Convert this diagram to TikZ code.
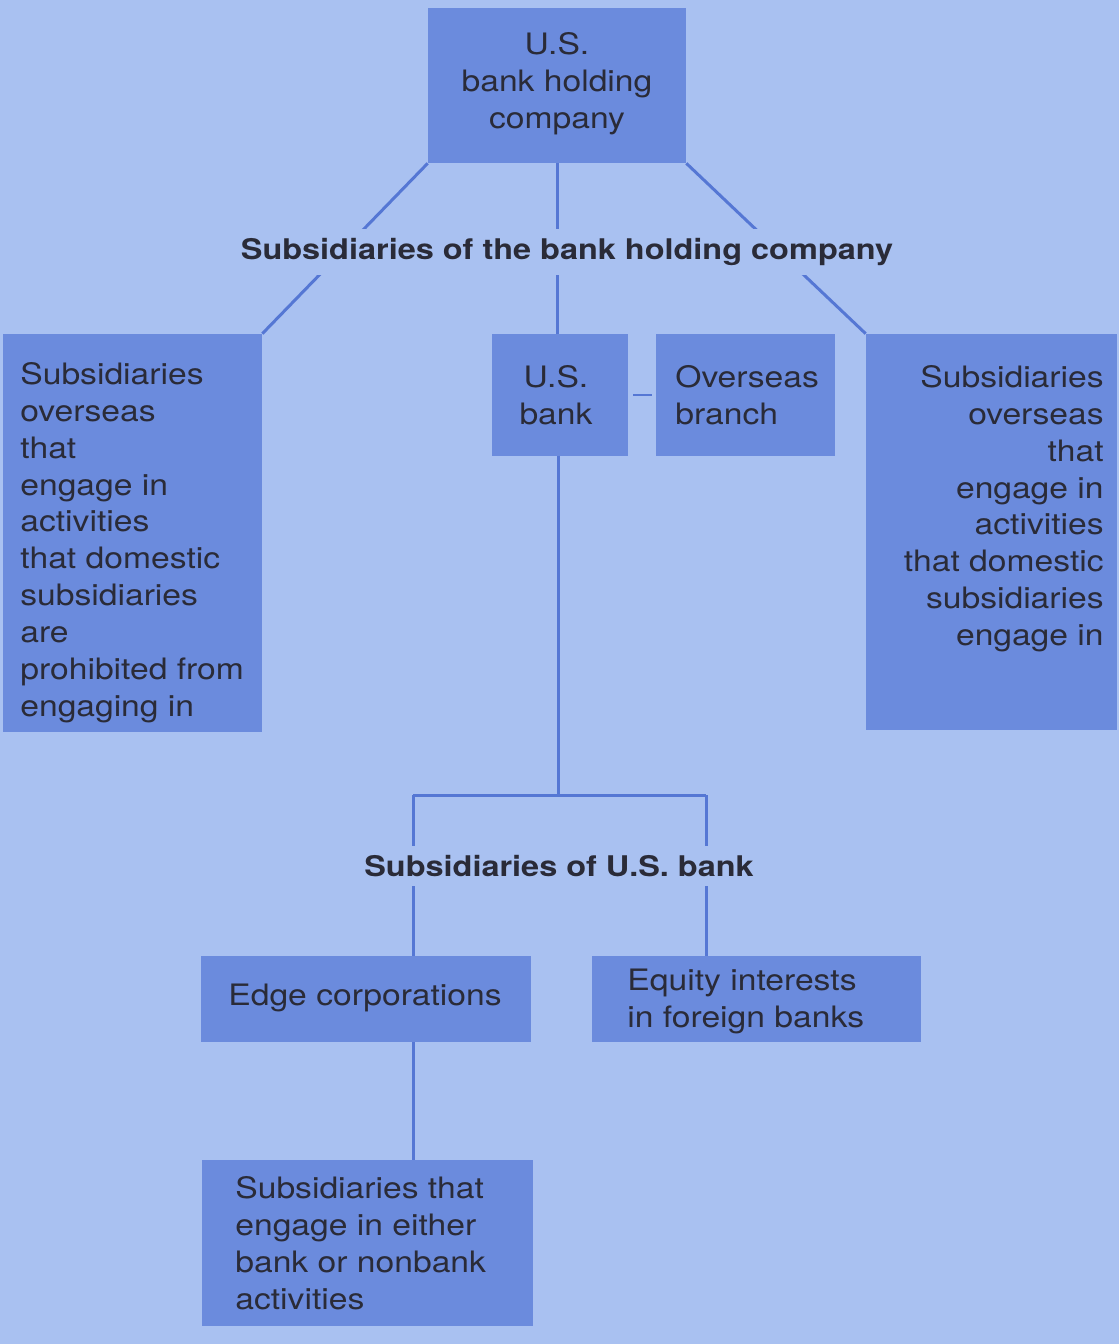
\documentclass[tikz,border=0pt]{standalone}
\usepackage{fontspec}
\setmainfont[FakeStretch=1.14]{TeX Gyre Heros}
\definecolor{paper}{HTML}{A9C1F1}
\definecolor{boxblue}{HTML}{6B8BDD}
\definecolor{lineblue}{HTML}{5577D4}
\definecolor{ink}{HTML}{2A2B38}
\begin{document}
\begin{tikzpicture}[x=0.02cm,y=-0.02cm,
	box/.style={rectangle,fill=boxblue,inner sep=0pt},
	txt/.style={inner sep=0pt,text=ink,font=\fontsize{16.8}{21}\selectfont},
	heading/.style={fill=paper,inner xsep=3pt,inner ysep=5pt,text=ink,font=\fontsize{16.2}{21}\selectfont\bfseries},
	link/.style={draw=lineblue,line width=1.7pt}]
	\fill[paper] (0,0) rectangle (1119,1344);
	\node[box, minimum width=5.16cm, minimum height=3.10cm] (top) at (557,85.5) {};
	\node[box, minimum width=5.18cm, minimum height=7.96cm] (lsub) at (132.5,533) {};
	\node[box, minimum width=2.72cm, minimum height=2.44cm] (usbank) at (560,395) {};
	\node[box, minimum width=3.58cm, minimum height=2.44cm] (branch) at (745.5,395) {};
	\node[box, minimum width=5.02cm, minimum height=7.92cm] (rsub) at (991.5,532) {};
	\node[box, minimum width=6.60cm, minimum height=1.72cm] (edge) at (366,999) {};
	\node[box, minimum width=6.58cm, minimum height=1.72cm] (equity) at (756.5,999) {};
	\node[box, minimum width=6.62cm, minimum height=3.32cm] (either) at (367.5,1243) {};
	\node[txt, align=center, anchor=north] (toptxt) at (557,32) {U.S.\\bank holding\\company};
	\node[txt, align=left, anchor=north west] (lsubtxt) at (20,362) {Subsidiaries\\overseas\\that\\engage in\\activities\\that domestic\\subsidiaries\\are\\prohibited from\\engaging in};
	\node[txt, align=center, anchor=north] (usbanktxt) at (556,365) {U.S.\\bank};
	\node[txt, align=left, anchor=north west] (branchtxt) at (675,365) {Overseas\\branch};
	\node[txt, align=right, anchor=north east] (rsubtxt) at (1104,365) {Subsidiaries\\overseas\\that\\engage in\\activities\\that domestic\\subsidiaries\\engage in};
	\node[txt, align=left, anchor=north west] (edgetxt) at (228,984) {Edge corporations};
	\node[txt, align=left, anchor=north west] (equitytxt) at (627,969) {Equity interests\\in foreign banks};
	\node[txt, align=left, anchor=north west] (eithertxt) at (235,1176) {Subsidiaries that\\engage in either\\bank or nonbank\\activities};
	\coordinate (split) at (558,795);
	\coordinate (ljoin) at (413,795);
	\coordinate (rjoin) at (706,795);
	\draw[link] (top.south west) -- (lsub.north east);
	\draw[link] (top.south) -- (top.south |- usbank.north);
	\draw[link] (top.south east) -- (rsub.north west);
	\draw[link, shorten <=0.1cm, shorten >=0.08cm] (usbank.east) -- (branch.west);
	\draw[link] (split |- usbank.south) -- (split);
	\draw[link] (ljoin) -- (rjoin);
	\draw[link] (ljoin) -- (ljoin |- edge.north);
	\draw[link] (rjoin) -- (rjoin |- equity.north);
	\draw[link] (ljoin |- edge.south) -- (ljoin |- either.north);
	\node[heading] (bhcsubs) at (567,252) {Subsidiaries of the bank holding company};
	\node[heading] (banksubs) at (559,866) {Subsidiaries of U.S. bank};
\end{tikzpicture}
\end{document}
